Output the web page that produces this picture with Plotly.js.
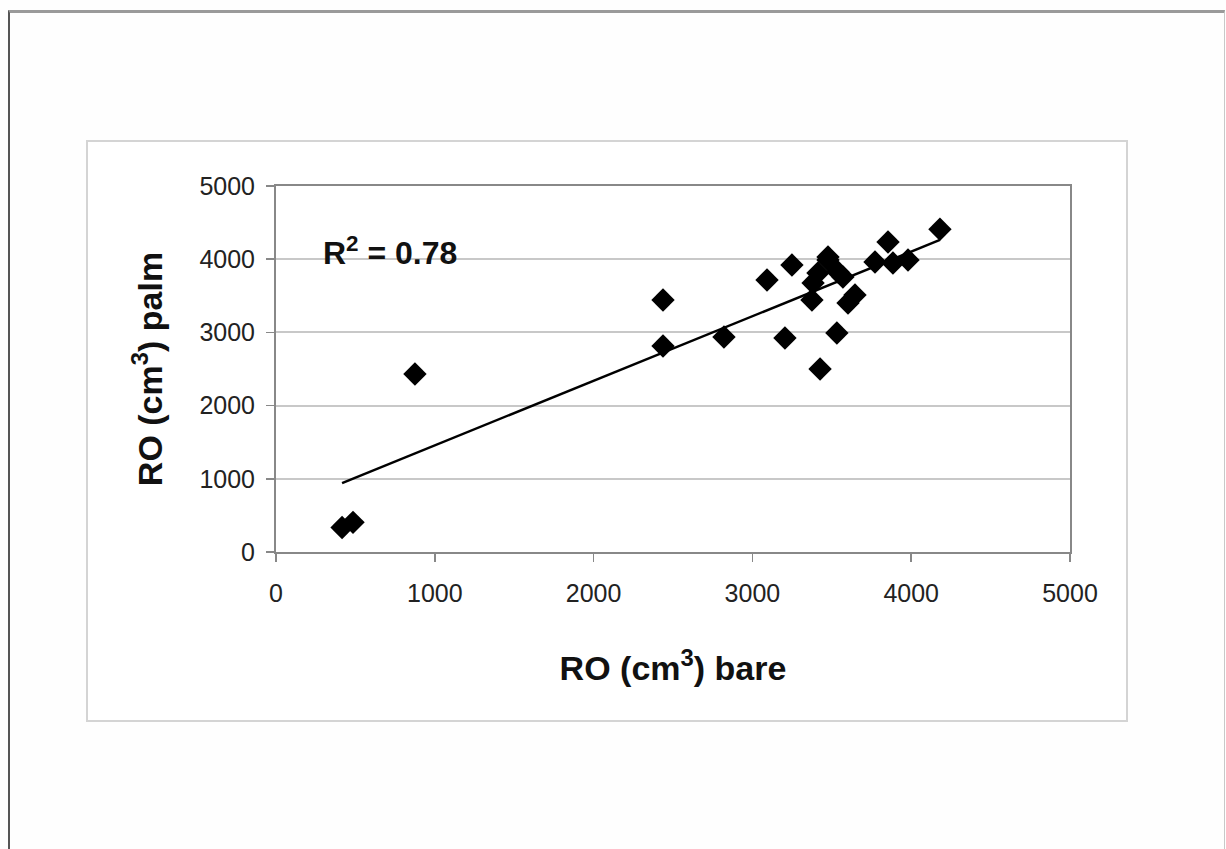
<!DOCTYPE html>
<html>
<head>
<meta charset="utf-8">
<script src="https://cdn.plot.ly/plotly-3.0.1.min.js"></script>
<style>
  html, body { margin: 0; padding: 0; background: #fefefe; width: 1226px; height: 849px; overflow: hidden; }
  #outer { position: absolute; left: 8px; top: 10px; width: 1214px; height: 850px;
           border-left: 2px solid #555; border-top: 3px solid #9a9a9a; border-right: 1px solid #c8c8c8; }
  #inner { position: absolute; left: 86px; top: 140px; width: 1038px; height: 578px;
           border: 2px solid #d4d4d4; background: #fff; }
  #chart { position: absolute; left: 0; top: 0; width: 1226px; height: 849px; }
</style>
</head>
<body>
<div id="outer"></div>
<div id="inner"></div>
<div id="chart"></div>
<script>
// Runoff (cm3): bare soil vs palm
const bare = [416, 485, 875, 2437, 2437, 2821, 3092, 3205, 3249, 3375, 3382, 3413, 3426, 3476, 3476, 3532, 3539, 3570, 3602, 3646, 3772, 3854, 3885, 3980, 4181];
const palm = [335, 405, 2432, 3443, 2814, 2937, 3716, 2923, 3921, 3443, 3675, 3811, 2500, 3990, 4030, 2992, 3825, 3757, 3402, 3511, 3962, 4235, 3948, 3989, 4410];
const xTicks = [0, 1000, 2000, 3000, 4000, 5000];
const yTicks = [0, 1000, 2000, 3000, 4000, 5000];
const r2Label = 'R<sup>2</sup> = 0.78';
const xTitle = 'RO (cm<sup>3</sup>) bare';
const yTitle = 'RO (cm<sup>3</sup>) palm';

// least-squares trend line
const n = bare.length;
const mx = bare.reduce((a, b) => a + b, 0) / n;
const my = palm.reduce((a, b) => a + b, 0) / n;
let sxy = 0, sxx = 0;
for (let i = 0; i < n; i++) { sxy += (bare[i] - mx) * (palm[i] - my); sxx += (bare[i] - mx) ** 2; }
const slope = sxy / sxx, intercept = my - slope * mx;
const xMin = Math.min(...bare), xMax = Math.max(...bare);
const trendX = [xMin, xMax];
const trendY = trendX.map(v => intercept + slope * v);

const font = 'Liberation Sans, Arial, sans-serif';
const traces = [
  { x: trendX, y: trendY, mode: 'lines', line: { color: '#000', width: 2.5 }, hoverinfo: 'skip', showlegend: false },
  { x: bare, y: palm, mode: 'markers', type: 'scatter',
    marker: { symbol: 'diamond', size: 18, color: '#000' }, showlegend: false }
];
const layout = {
  width: 1226, height: 849,
  paper_bgcolor: 'rgba(0,0,0,0)', plot_bgcolor: 'rgba(0,0,0,0)',
  margin: { l: 276, r: 156, t: 186, b: 297, pad: 0 },
  font: { family: font, color: '#222' },
  xaxis: {
    range: [0, 5000], tickvals: xTicks, ticktext: xTicks.map(String),
    showgrid: false, zeroline: false,
    showline: true, linecolor: '#888', linewidth: 2, mirror: true,
    ticks: 'outside', ticklen: 8, tickcolor: '#888', tickwidth: 1.5,
    ticklabelstandoff: 10,
    tickfont: { size: 25, family: font, color: '#222' },
    title: { text: xTitle, font: { size: 34, family: font, color: '#111', weight: 'bold' }, standoff: 50 }
  },
  yaxis: {
    range: [0, 5000], tickvals: yTicks, ticktext: yTicks.map(String),
    showgrid: true, gridcolor: '#c8c8c8', gridwidth: 2, zeroline: false,
    showline: true, linecolor: '#888', linewidth: 2, mirror: true,
    ticks: 'outside', ticklen: 8, tickcolor: '#888', tickwidth: 1.5,
    ticklabelstandoff: 6,
    tickfont: { size: 25, family: font, color: '#222' },
    title: { text: yTitle, font: { size: 34, family: font, color: '#111', weight: 'bold' }, standoff: 26 }
  },
  annotations: [{
    x: 718, y: 4112, xref: 'x', yref: 'y', text: r2Label, showarrow: false,
    font: { size: 32, family: font, color: '#111', weight: 'bold' }
  }]
};
Plotly.newPlot('chart', traces, layout, { displayModeBar: false, staticPlot: true });
</script>
</body>
</html>
